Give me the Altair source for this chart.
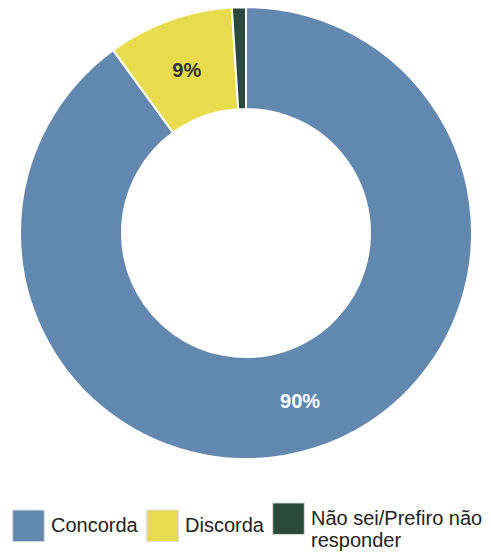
import altair as alt
import pandas as pd

categories = ["Concorda", "Discorda", "Não sei/Prefiro não responder"]
values = [90, 9, 1]
colors = ["#6388b0", "#e8dc4e", "#2b4a3e"]

df = pd.DataFrame({"cat": categories, "value": values, "idx": list(range(len(categories)))})

base = alt.Chart(df).encode(
    theta=alt.Theta("value:Q", stack=True),
    order=alt.Order("idx:Q"),
    x=alt.value(238),
    y=alt.value(225),
)

arc = base.mark_arc(outerRadius=226, innerRadius=124, stroke="white", strokeWidth=2).encode(
    color=alt.Color(
        "cat:N",
        scale=alt.Scale(domain=categories, range=colors),
        sort=categories,
        legend=alt.Legend(
            title=None,
            orient="none",
            legendX=4,
            legendY=494,
            direction="horizontal",
            symbolType="square",
            symbolSize=1000,
            symbolStrokeColor="#dddddd",
            symbolStrokeWidth=1,
            symbolOpacity=1,
            labelFont="Liberation Sans",
            labelFontSize=20,
            labelColor="#222222",
            labelLimit=300,
            labelOffset=6,
            columnPadding=6,
            labelExpr="datum.label == 'Não sei/Prefiro não responder' ? ['Não sei/Prefiro não', 'responder'] : datum.label",
        ),
    )
)

text = base.transform_calculate(
    label="datum.value >= 5 ? datum.value + '%' : ''"
).mark_text(radius=175, font="Liberation Sans", fontSize=20, fontWeight="bold", dy=3).encode(
    text="label:N",
    color=alt.condition(alt.datum.cat == "Concorda", alt.value("white"), alt.value("#333333")),
)

chart = alt.layer(arc, text).properties(
    width=475, height=547, autosize=alt.AutoSizeParams(type="none"), padding=0
).configure_view(stroke=None)

chart.save("out.html", embed_options={"renderer": "svg", "actions": False})
